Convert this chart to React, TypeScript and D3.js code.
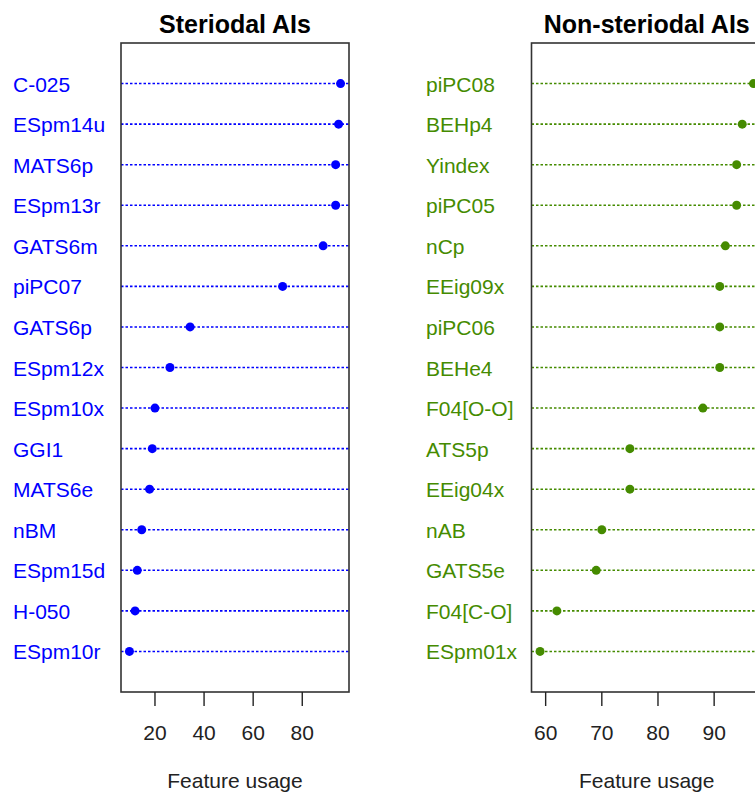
import React, { useEffect } from "react";
import * as d3 from "d3";

const steroidalLabels = ["C-025", "ESpm14u", "MATS6p", "ESpm13r", "GATS6m", "piPC07", "GATS6p", "ESpm12x", "ESpm10x", "GGI1", "MATS6e", "nBM", "ESpm15d", "H-050", "ESpm10r"];
const steroidalValues = [95.6, 94.8, 93.6, 93.6, 88.5, 72.0, 34.3, 26.1, 20.0, 18.9, 17.8, 14.6, 12.8, 11.9, 9.6];
const steroidalTicks = [20, 40, 60, 80];

const nonSteroidalLabels = ["piPC08", "BEHp4", "Yindex", "piPC05", "nCp", "EEig09x", "piPC06", "BEHe4", "F04[O-O]", "ATS5p", "EEig04x", "nAB", "GATS5e", "F04[C-O]", "ESpm01x"];
const nonSteroidalValues = [97, 95, 94, 94, 92, 91, 91, 91, 88, 75, 75, 70, 69, 62, 59];
const nonSteroidalTicks = [60, 70, 80, 90];

const FONT = "'Liberation Sans', Arial, Helvetica, sans-serif";

type PanelProps = {
  title: string;
  labels: string[];
  values: number[];
  ticks: number[];
  color: string;
  x0: number;
  x1: number;
  labelX: number;
};

const TOP = 43;
const BOTTOM = 692;

function Panel({ title, labels, values, ticks, color, x0, x1, labelX }: PanelProps) {
  const n = labels.length;
  const lo = d3.min(values)!;
  const hi = d3.max(values)!;
  const ext = (hi - lo) * 0.04;
  const x = d3.scaleLinear().domain([lo - ext, hi + ext]).range([x0, x1]);
  const y = d3.scaleLinear().domain([0, n + 1]).range([BOTTOM, TOP]);
  const cx = (x0 + x1) / 2;
  return (
    <g>
      <text x={cx} y={33} textAnchor="middle" fontFamily={FONT} fontWeight="bold" fontSize={25} fill="#000">
        {title}
      </text>
      {labels.map((lab, i) => {
        const yy = y(n - i);
        return (
          <g key={lab}>
            <line x1={x0} x2={x1} y1={yy} y2={yy} stroke={color} strokeWidth={1.6} strokeDasharray="2.5 2" />
            <circle cx={x(values[i])} cy={yy} r={4.5} fill={color} />
            <text x={labelX} y={yy + 8} fontFamily={FONT} fontSize={21} fill={color}>
              {lab}
            </text>
          </g>
        );
      })}
      <rect x={x0} y={TOP} width={x1 - x0} height={BOTTOM - TOP} fill="none" stroke="#333" strokeWidth={1.6} />
      {ticks.map((t) => (
        <g key={t}>
          <line x1={x(t)} x2={x(t)} y1={BOTTOM} y2={BOTTOM + 14} stroke="#222" strokeWidth={1.4} />
          <text x={x(t)} y={740} textAnchor="middle" fontFamily={FONT} fontSize={21} fill="#222">
            {t}
          </text>
        </g>
      ))}
      <text x={cx} y={788} textAnchor="middle" fontFamily={FONT} fontSize={21} fill="#222">
        Feature usage
      </text>
    </g>
  );
}

export default function App() {
  useEffect(() => {
    document.body.style.margin = "0";
  }, []);
  return (
    <svg width={755} height={794} style={{ position: "absolute", left: 0, top: 0, background: "#fff" }}>
      <rect x={0} y={0} width={755} height={794} fill="#fff" />
      <Panel
        title="Steriodal AIs"
        labels={steroidalLabels}
        values={steroidalValues}
        ticks={steroidalTicks}
        color="#0000FF"
        x0={121}
        x1={349}
        labelX={13}
      />
      <Panel
        title="Non-steriodal AIs"
        labels={nonSteroidalLabels}
        values={nonSteroidalValues}
        ticks={nonSteroidalTicks}
        color="#458B00"
        x0={531.5}
        x1={762}
        labelX={426}
      />
    </svg>
  );
}
